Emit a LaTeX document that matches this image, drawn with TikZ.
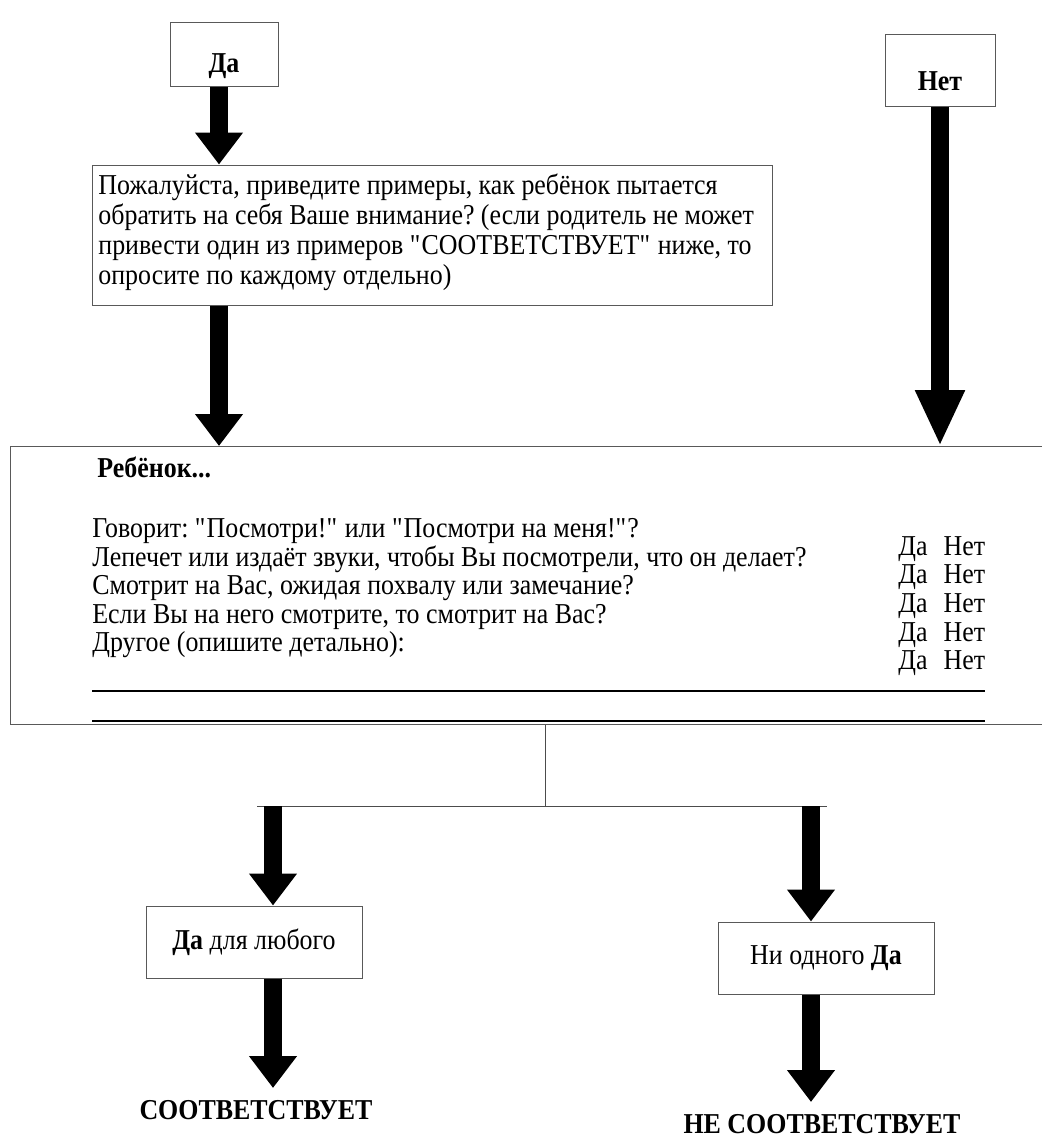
\documentclass[tikz,border=0pt]{standalone}
\usepackage{fontspec}
\setmainfont{Liberation Serif}[FakeStretch=0.9]
\usetikzlibrary{arrows.meta,positioning}
\frenchspacing

\tikzset{
  frame/.style={draw=black!65, line width=0.5pt, fill=white, inner sep=0pt},
  fat arrow/.style={line width=9pt, -{Triangle[length=16pt,width=23pt]}},
  body/.style={font=\fontsize{14.4}{15}\selectfont, inner sep=0pt, align=left},
  answer/.style={font=\fontsize{14.4}{15}\selectfont\bfseries, inner sep=0pt},
}

\begin{document}
\begin{tikzpicture}[x=0.5pt,y=-0.5pt]
\useasboundingbox (0,0) rectangle (1042,1140);

%top answers
\node[frame, answer, minimum width=54pt, minimum height=32pt, text height=18pt, text depth=0pt] (yes) at (224,54) {Да};
\node[frame, answer, minimum width=55pt, minimum height=36pt, text height=20pt, text depth=0pt] (no) at (940,70) {Нет};
\coordinate (yescol) at (219,0);

%question box
\node[frame, minimum width=340pt, minimum height=70pt] (ask) at (432,235) {};
\node[body, anchor=north west] (asktext) at (98,173)
  {Пожалуйста, приведите примеры, как ребёнок пытается\\
   обратить на себя Ваше внимание? (если родитель не может\\
   привести один из примеров \textquotedbl СООТВЕТСТВУЕТ\textquotedbl\ ниже, то\\
   опросите по каждому отдельно)};

%child box
\node[frame, minimum width=540pt, minimum height=139pt, anchor=north west] (child) at (10,446) {};
\node[answer, anchor=west] (childhead) at (97,467) {Ребёнок...};
\node[body, font=\fontsize{14.4}{14.3}\selectfont, anchor=north west] (items) at (92,518)
  {Говорит: \textquotedbl Посмотри!\textquotedbl\ или \textquotedbl Посмотри на меня!\textquotedbl ?\\
   Лепечет или издаёт звуки, чтобы Вы посмотрели, что он делает?\\
   Смотрит на Вас, ожидая похвалу или замечание?\\
   Если Вы на него смотрите, то смотрит на Вас?\\
   Другое (опишите детально):};
\node[body, font=\fontsize{14.4}{14.3}\selectfont, anchor=north west] (marks) at (898,536)
  {Да\hspace{8pt}Нет\\ Да\hspace{8pt}Нет\\ Да\hspace{8pt}Нет\\ Да\hspace{8pt}Нет\\ Да\hspace{8pt}Нет};
\draw[line width=0.8pt] (92,691) -- (985,691);
\draw[line width=0.8pt] (92,721) -- (985,721);

%arrows into the boxes
\draw[fat arrow] (yes.south -| yescol) -- (ask.north -| yescol);
\draw[fat arrow, -{Triangle[length=28pt,width=23pt]}] (no.south) -- (no.south |- child.north);
\draw[fat arrow] (ask.south -| yescol) -- (child.north -| yescol);

%split
\node[frame, minimum width=108pt, minimum height=36pt] (anyyes) at (254,942)
  {\fontsize{14.4}{15}\selectfont\textbf{Да} для любого};
\node[frame, minimum width=108pt, minimum height=36pt] (noyes) at (826,958)
  {\fontsize{14.4}{15}\selectfont Ни одного \textbf{Да}};
\coordinate (split) at (545,806);
\coordinate (lefttop) at (273,806);
\coordinate (righttop) at (811,806);
\draw[black!70] (child.south -| split) -- (split);
\draw[black!70] ([xshift=-8pt]lefttop) -- ([xshift=8pt]righttop);
\draw[fat arrow] (lefttop) -- (lefttop |- anyyes.north);
\draw[fat arrow] (righttop) -- (righttop |- noyes.north);

%results
\node[answer, anchor=north] (match) at (256,1100) {СООТВЕТСТВУЕТ};
\node[answer, anchor=north] (nomatch) at (822,1114) {НЕ СООТВЕТСТВУЕТ};
\draw[fat arrow] (lefttop |- anyyes.south) -- ([yshift=6pt]lefttop |- match.north);
\draw[fat arrow] (righttop |- noyes.south) -- ([yshift=6pt]righttop |- nomatch.north);
\end{tikzpicture}
\end{document}
